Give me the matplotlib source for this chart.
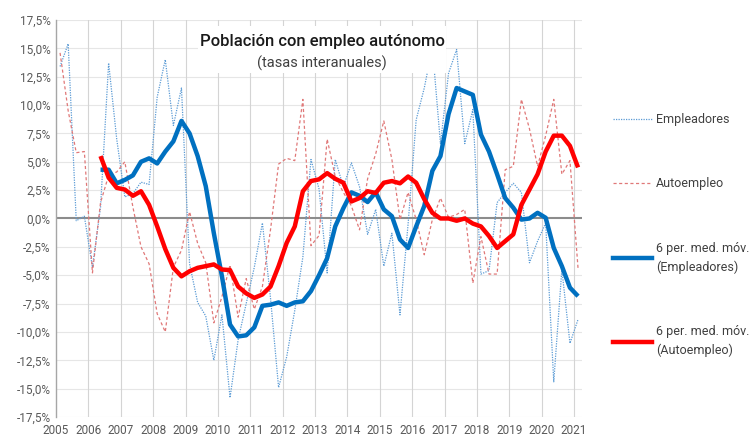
import numpy as np
import matplotlib
matplotlib.use('Agg')
import matplotlib.pyplot as plt
from matplotlib.lines import Line2D
from matplotlib.patches import Rectangle
from matplotlib.ticker import FuncFormatter

plt.rcParams['font.family'] = ['Roboto', 'DejaVu Sans']

# quarterly series, 2005T1 .. 2021T1 (tasas interanuales, %)
empleadores = [13.4, 15.4, -0.2, 0.2, -4.3, 1.0, 13.7, 7.0, 1.9, 2.2,
               3.2, 3.0, 10.7, 14.0, 8.2, 11.5, -4.0, -7.4, -8.6, -12.5,
               -8.5, -15.8, -10.7, -7.5, -4.3, -0.4, -7.0, -14.9, -12.2, -8.1,
               -3.4, 5.2, 2.6, -4.8, 5.2, 2.8, 4.9, 2.8, -1.4, 0.8,
               -4.2, -1.3, -8.5, -0.5, 8.7, 11.5, 15.1, 6.6, 12.8, 14.9,
               6.6, 9.6, -4.9, -4.6, 1.4, 2.3, 3.1, 2.3, -3.9, -2.0,
               -0.4, -14.4, -4.5, -11.0, -8.9]

autoempleo = [14.6, 9.5, 5.8, 5.9, -4.8, 1.4, 3.8, 4.1, 5.0, 1.0,
              -2.5, -4.0, -8.4, -10.0, -4.3, -2.8, 0.6, -2.2, -3.9, -9.2,
              -6.9, -4.1, -8.7, -5.3, -8.0, -6.0, -1.0, 4.8, 5.3, 5.1,
              10.5, -2.4, -1.5, 7.0, 3.7, 2.3, 1.1, -1.0, 3.5, 5.7,
              8.6, 5.2, -0.1, 2.3, -0.1, -3.2, -0.1, 1.8, 0.1, 0.35,
              0.8, -5.7, -1.6, -4.9, -4.9, 4.3, 4.6, 10.5, 7.9, 4.6,
              7.3, 10.5, 3.9, 5.1, -4.4]

# 6 per. med. mov. (first 5 quarters empty)
empleadores_mm = [None] * 5 + [
    4.3, 4.3, 3.1, 3.4, 3.8, 5.0, 5.3, 4.85, 5.9, 6.8,
    8.6, 7.5, 5.5, 2.85, -1.3, -5.1, -9.35, -10.4, -10.3, -9.6,
    -7.7, -7.6, -7.4, -7.7, -7.4, -7.3, -6.4, -5.0, -3.5, -0.7,
    0.9, 2.3, 2.0, 1.45, 2.3, 0.8, 0.2, -1.85, -2.6, -0.7,
    1.1, 4.2, 5.5, 9.2, 11.5, 11.2, 10.9, 7.4, 5.9, 3.9,
    1.8, 0.95, -0.1, 0.0, 0.5, 0.06, -2.6, -4.2, -6.1, -6.85]

autoempleo_mm = [None] * 5 + [
    5.5, 3.6, 2.7, 2.55, 2.0, 2.4, 1.2, -0.7, -2.7, -4.35,
    -5.1, -4.65, -4.35, -4.2, -4.05, -4.5, -4.55, -6.0, -6.6, -7.0,
    -6.7, -6.0, -4.2, -2.15, -0.7, 2.4, 3.3, 3.45, 4.0, 3.5,
    3.15, 1.5, 1.8, 2.4, 2.25, 3.15, 3.3, 3.1, 3.7, 3.15,
    1.7, 0.5, 0.0, 0.0, -0.2, 0.0, -0.45, -0.7, -1.55, -2.6,
    -2.0, -1.4, 1.2, 2.55, 3.9, 5.9, 7.3, 7.3, 6.4, 4.5]

years = list(range(2005, 2022))
start_year = 2005

# each quarter sits in the middle of its slot
x = start_year + (np.arange(len(empleadores)) + 0.5) / 4.0
emp_mm = np.array(empleadores_mm, dtype=float)
aut_mm = np.array(autoempleo_mm, dtype=float)

fig = plt.figure(figsize=(7.54, 4.37), dpi=100)
ax = fig.add_axes([0.0743, 0.0458, 0.6977, 0.9085])

grey_txt = '#595959'

# grid
for v in np.arange(-17.5, 17.6, 2.5):
    if abs(v) > 1e-9:
        ax.axhline(v, color='#e6e6e6', lw=0.8, zorder=0)
for yr in years[1:]:
    ax.axvline(yr, color='#d4d4d4', lw=0.8, zorder=0)
ax.axhline(0, color='#8c8c8c', lw=1.5, zorder=1)

ax.plot(x, empleadores, color='#5b9bd5', lw=0.9, ls=(0, (1, 1)), zorder=2)
ax.plot(x, autoempleo, color='#e07878', lw=0.9, ls=(0, (2.5, 2)), zorder=2)
ax.plot(x, emp_mm, color='#0070c0', lw=3.2, zorder=3, solid_capstyle='butt')
ax.plot(x, aut_mm, color='#ff0000', lw=3.2, zorder=3, solid_capstyle='butt')

ax.set_xlim(start_year, start_year + len(empleadores) / 4.0)
ax.set_ylim(-17.5, 17.5)
ax.set_yticks(np.arange(-17.5, 17.6, 2.5))
ax.yaxis.set_major_formatter(FuncFormatter(lambda v, p: ('%.1f%%' % v).replace('.', ',').replace('-0,0', '0,0')))
ax.set_xticks(years)
ax.set_xticklabels([str(y) for y in years])
ax.tick_params(axis='both', length=0, labelsize=8.5, colors=grey_txt)
ax.tick_params(axis='x', pad=5)
ax.tick_params(axis='y', pad=4)

for s in ['top', 'right', 'bottom']:
    ax.spines[s].set_visible(False)
ax.spines['left'].set_color('#a6a6a6')
ax.spines['left'].set_linewidth(1.0)

# title box hides the lines behind it
ax.add_patch(Rectangle((0.27, 0.866), 0.471, 0.12, transform=ax.transAxes,
                       facecolor='white', edgecolor='none', zorder=5))
ax.text(0.506, 0.945, 'Población con empleo autónomo', transform=ax.transAxes,
        ha='center', va='center', fontsize=12, fontweight='medium', color='#1a1a1a', zorder=6)
ax.text(0.506, 0.89, '(tasas interanuales)', transform=ax.transAxes,
        ha='center', va='center', fontsize=10.5, color='#404040', zorder=6)

handles = [
    Line2D([], [], color='#5b9bd5', lw=0.9, ls=(0, (1, 1))),
    Line2D([], [], color='#e07878', lw=0.9, ls=(0, (2.5, 2))),
    Line2D([], [], color='#0070c0', lw=3.2),
    Line2D([], [], color='#ff0000', lw=3.2),
]
labels = ['Empleadores', 'Autoempleo', '6 per. med. móv.\n(Empleadores)', '6 per. med. móv.\n(Autoempleo)']
leg = fig.legend(handles, labels, loc='center left', bbox_to_anchor=(0.805, 0.462),
                 frameon=False, fontsize=9, handlelength=3.1, handletextpad=0.3,
                 labelspacing=4.1, borderpad=0)
for t in leg.get_texts():
    t.set_color('#404040')
    t.set_linespacing(1.55)

fig.savefig('out.png', dpi=100)
